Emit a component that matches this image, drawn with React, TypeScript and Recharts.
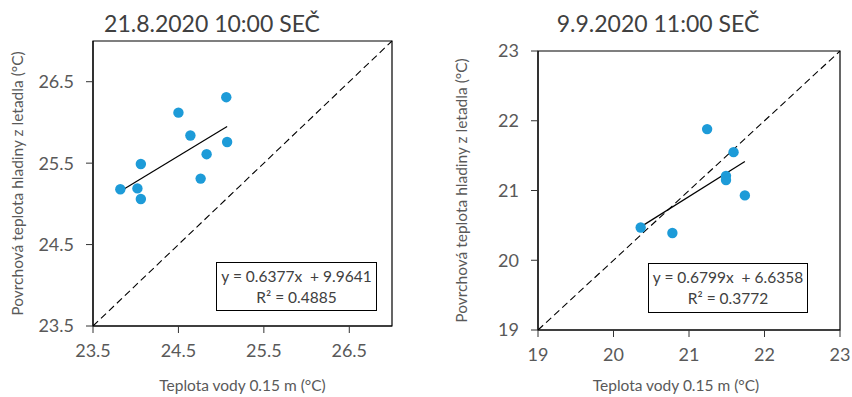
import React from "react";
import {
  ScatterChart,
  Scatter,
  XAxis,
  YAxis,
  ReferenceLine,
  ReferenceArea,
  Label,
} from "recharts";

// 21.8.2020
const augWater = [23.82, 24.02, 24.06, 24.06, 24.5, 24.64, 24.83, 24.76, 25.06, 25.07];
const augSurface = [25.18, 25.19, 25.06, 25.49, 26.12, 25.84, 25.61, 25.31, 26.31, 25.76];
const augTicks = [23.5, 24.5, 25.5, 26.5];
const augDomain = [23.5, 27];
const augFit = { slope: 0.6377, intercept: 9.9641, r2: "0.4885" };

// 9.9.2020
const sepWater = [20.36, 20.78, 21.24, 21.59, 21.49, 21.49, 21.74];
const sepSurface = [20.47, 20.39, 21.88, 21.55, 21.21, 21.15, 20.93];
const sepTicks = [19, 20, 21, 22, 23];
const sepDomain = [19, 23];
const sepFit = { slope: 0.6799, intercept: 6.6358, r2: "0.3772" };

const FONT = "Lato, 'Open Sans', sans-serif";
const DOT = "#1d9bd8";
const GREY = "#595959";

type PanelProps = {
  title: string;
  xs: number[];
  ys: number[];
  ticks: number[];
  domain: number[];
  fit: { slope: number; intercept: number; r2: string };
  margin: { top: number; right: number; bottom: number; left: number };
  yWidth: number;
  xHeight: number;
  titleX: number;
  yLabelOffset: number;
  xLabelDx: number;
  box: { left: number; top: number; width: number; height: number };
};

function Panel(p: PanelProps) {
  const data = p.xs.map((x, i) => ({ x, y: p.ys[i] }));
  const xMin = Math.min(...p.xs);
  const xMax = Math.max(...p.xs);
  const [lo, hi] = p.domain;
  const eq = `y = ${p.fit.slope}x  + ${p.fit.intercept}`;

  return (
    <div style={{ position: "absolute", top: 0, width: 426, height: 397 }}>
      <div
        style={{
          position: "absolute",
          left: p.titleX - 150,
          width: 300,
          top: 9,
          textAlign: "center",
          fontFamily: FONT,
          fontSize: 23,
          fontWeight: 400,
          lineHeight: "28px",
          color: "#404040",
        }}
      >
        {p.title}
      </div>
      <ScatterChart width={426} height={397} margin={p.margin}>
        <XAxis
          type="number"
          dataKey="x"
          domain={domain(p.domain)}
          ticks={p.ticks}
          allowDataOverflow
          height={p.xHeight}
          tickSize={7}
          tickMargin={11}
          axisLine={{ stroke: "#000" }}
          tickLine={{ stroke: "#333" }}
          tick={{ fill: GREY, fontSize: 18, fontFamily: FONT }}
        >
          <Label
            value="Teplota vody 0.15 m (°C)"
            position="insideBottom"
            offset={6}
            dx={p.xLabelDx}
            style={{ fill: GREY, fontSize: 15.5, fontFamily: FONT }}
          />
        </XAxis>
        <YAxis
          type="number"
          dataKey="y"
          domain={domain(p.domain)}
          ticks={p.ticks}
          allowDataOverflow
          width={p.yWidth}
          tickSize={7}
          tickMargin={12}
          axisLine={{ stroke: "#000" }}
          tickLine={{ stroke: "#333" }}
          tick={{ fill: GREY, fontSize: 18, fontFamily: FONT }}
        >
          <Label
            value="Povrchová teplota hladiny z letadla (°C)"
            angle={-90}
            position="insideLeft"
            offset={p.yLabelOffset}
            style={{ fill: GREY, fontSize: 15.5, fontFamily: FONT, textAnchor: "middle" }}
          />
        </YAxis>
        <ReferenceArea x1={lo} x2={hi} y1={lo} y2={hi} fill="none" stroke="#000" strokeWidth={1.2} />
        <ReferenceLine
          segment={[
            { x: lo, y: lo },
            { x: hi, y: hi },
          ]}
          stroke="#000"
          strokeWidth={1.1}
          strokeDasharray="7 4"
        />
        <Scatter
          data={data}
          isAnimationActive={false}
          shape={(s: any) => <circle cx={s.cx} cy={s.cy} r={5.2} fill={DOT} />}
        />
        <ReferenceLine
          segment={[
            { x: xMin, y: p.fit.slope * xMin + p.fit.intercept },
            { x: xMax, y: p.fit.slope * xMax + p.fit.intercept },
          ]}
          stroke="#000"
          strokeWidth={1.2}
        />
      </ScatterChart>
      <div
        style={{
          position: "absolute",
          left: p.box.left,
          top: p.box.top,
          width: p.box.width,
          height: p.box.height,
          boxSizing: "border-box",
          border: "1.5px solid #000",
          background: "#fff",
          fontFamily: FONT,
          fontSize: 15.5,
          color: "#404040",
          textAlign: "center",
          lineHeight: "21px",
          paddingTop: 3,
          whiteSpace: "pre",
        }}
      >
        <div>{eq}</div>
        <div>R² = {p.fit.r2}</div>
      </div>
    </div>
  );
}

function domain(d: number[]): [number, number] {
  return [d[0], d[1]];
}

export default function App() {
  return (
    <div
      style={{
        position: "absolute",
        left: 0,
        top: 0,
        width: 852,
        height: 397,
        background: "#fff",
        overflow: "hidden",
      }}
    >
      <div style={{ position: "absolute", left: 0, top: 0 }}>
        <Panel
          title="21.8.2020 10:00 SEČ"
          xs={augWater}
          ys={augSurface}
          ticks={augTicks}
          domain={augDomain}
          fit={augFit}
          margin={{ top: 41, right: 34, bottom: 0, left: 0 }}
          yWidth={93}
          xHeight={71}
          titleX={212}
          yLabelOffset={17}
          xLabelDx={0}
          box={{ left: 216, top: 262, width: 161, height: 49 }}
        />
      </div>
      <div style={{ position: "absolute", left: 426, top: 0 }}>
        <Panel
          title="9.9.2020 11:00 SEČ"
          xs={sepWater}
          ys={sepSurface}
          ticks={sepTicks}
          domain={sepDomain}
          fit={sepFit}
          margin={{ top: 51, right: 12, bottom: 0, left: 0 }}
          yWidth={112}
          xHeight={67}
          titleX={232}
          yLabelOffset={35}
          xLabelDx={-13}
          box={{ left: 222, top: 263, width: 160, height: 50 }}
        />
      </div>
    </div>
  );
}
